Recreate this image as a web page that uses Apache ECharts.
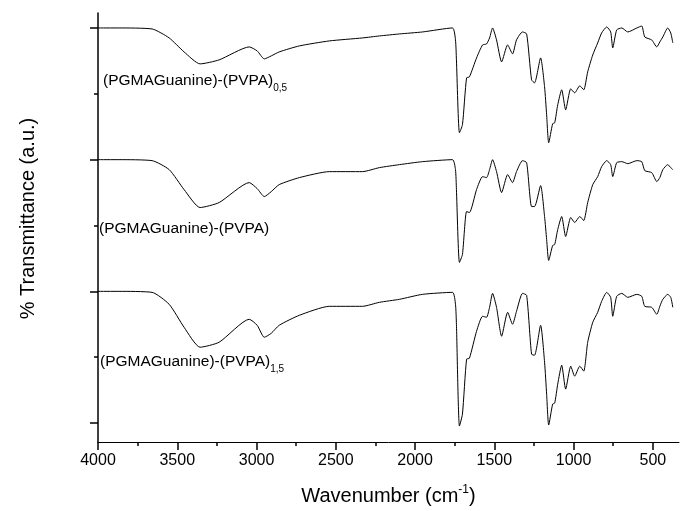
<!DOCTYPE html>
<html>
<head>
<meta charset="utf-8">
<script src="https://cdn.jsdelivr.net/npm/echarts@6/dist/echarts.min.js"></script>
<style>
  html, body { margin: 0; padding: 0; background: #fff; }
  #chart { width: 680px; height: 511px; }
</style>
</head>
<body>
<div id="chart"></div>
<script>
// wavenumbers (cm-1), shared by the three spectra
var wavenumber = [4000, 3867, 3659, 3551, 3457, 3356, 3236, 3046, 2996, 2951, 2907, 2857, 2730, 2541, 2332, 2225, 2099, 1953, 1764, 1745,
  1739, 1720, 1701, 1675, 1657, 1612, 1574, 1549, 1530, 1511, 1486, 1454, 1416, 1385, 1360, 1322, 1296, 1265, 1246, 1208,
  1183, 1170, 1157, 1132, 1119, 1100, 1075, 1050, 1018, 993, 961, 936, 911, 879, 848, 823, 791, 766, 753, 728,
  696, 658, 601, 570, 551, 507, 475, 456, 437, 406, 387, 374];

// transmittance, arbitrary units (curves are stacked)
var pvpa05 = [415, 415, 414, 405, 391, 379, 383, 396, 392, 384, 387, 391, 397, 402, 405, 407, 409, 411, 415, 403,
  383, 310, 318, 365, 366, 385, 398, 399, 405, 415, 403, 381, 398, 389, 403, 411, 409, 363, 360, 385,
  356, 328, 300, 319, 320, 338, 353, 333, 354, 350, 357, 353, 371, 388, 400, 410, 416, 411, 395, 413,
  415, 411, 415, 417, 406, 403, 396, 401, 406, 415, 410, 400];
var pvpa10 = [283, 283, 282, 273, 253, 235, 240, 260, 254, 246, 251, 258, 265, 271, 271, 275, 278, 281, 283, 273,
  253, 180, 188, 231, 230, 253, 266, 265, 273, 283, 271, 250, 268, 260, 271, 282, 280, 236, 236, 257,
  226, 203, 182, 197, 198, 213, 226, 206, 225, 220, 226, 222, 240, 258, 266, 276, 282, 278, 266, 280,
  281, 279, 282, 281, 272, 270, 261, 265, 273, 278, 275, 273];
var pvpa15 = [151, 151, 150, 138, 115, 95, 100, 123, 117, 105, 109, 117, 127, 136, 136, 140, 143, 148, 150, 138,
  118, 16, 28, 83, 84, 111, 126, 125, 135, 149, 135, 106, 130, 118, 131, 149, 147, 88, 87, 117,
  80, 48, 17, 38, 39, 58, 77, 53, 76, 66, 76, 71, 100, 120, 130, 141, 150, 145, 126, 146,
  149, 145, 148, 146, 136, 135, 128, 136, 143, 148, 145, 135];

var xMajor = [4000, 3500, 3000, 2500, 2000, 1500, 1000, 500];
var xMinor = [3750, 3250, 2750, 2250, 1750, 1250, 750];
var yMajor = [19, 151, 283, 415];
var yMinor = [85, 217, 349];

var font = 'Liberation Sans, Arial, sans-serif';

function pairs(vals) {
  var out = [];
  for (var i = 0; i < wavenumber.length; i++) {
    out.push([wavenumber[i], vals[i]]);
  }
  return out;
}

function spectrum(name, vals) {
  return {
    name: name,
    type: 'line',
    data: pairs(vals),
    showSymbol: false,
    smooth: 0.2,
    lineStyle: { color: '#000', width: 1 },
    silent: true
  };
}

var chart = echarts.init(document.getElementById('chart'));

var xBase = {
  type: 'value',
  inverse: true,
  min: 335,
  max: 4000,
  splitLine: { show: false }
};
var yBase = {
  type: 'value',
  min: 0,
  max: 430,
  splitLine: { show: false },
  axisLabel: { show: false }
};

var option = {
  animation: false,
  grid: { left: 98, right: 1, top: 13, bottom: 68 },
  xAxis: [
    Object.assign({}, xBase, {
      name: 'Wavenumber (cm{sup|-1})',
      nameLocation: 'middle',
      nameGap: 42,
      nameTextStyle: {
        fontFamily: font, fontSize: 20, color: '#000',
        rich: { sup: { fontFamily: font, fontSize: 12, color: '#000', padding: [0, 0, 12, 0] } }
      },
      axisLine: { show: true, lineStyle: { color: '#000', width: 1 } },
      axisTick: { show: true, customValues: xMajor, length: 8, lineStyle: { color: '#000', width: 1.5 } },
      axisLabel: {
        customValues: xMajor, fontFamily: font, fontSize: 16, color: '#000', margin: 11,
        formatter: function (v) { return String(v); }
      }
    }),
    Object.assign({}, xBase, {
      position: 'bottom',
      axisLine: { show: false },
      axisTick: { show: true, customValues: xMinor, length: 4, lineStyle: { color: '#000', width: 1.5 } },
      axisLabel: { show: false }
    })
  ],
  yAxis: [
    Object.assign({}, yBase, {
      name: '% Transmittance (a.u.)',
      nameLocation: 'middle',
      nameGap: 60,
      nameTextStyle: { fontFamily: font, fontSize: 20, color: '#000', padding: [0, 0, 0, 18] },
      axisLine: { show: true, lineStyle: { color: '#000', width: 1.5 } },
      axisTick: { show: true, customValues: yMajor, length: 8, lineStyle: { color: '#000', width: 1.5 } }
    }),
    Object.assign({}, yBase, {
      position: 'left',
      axisLine: { show: false },
      axisTick: { show: true, customValues: yMinor, length: 4, lineStyle: { color: '#000', width: 1.5 } }
    })
  ],
  series: [
    spectrum('(PGMAGuanine)-(PVPA)0,5', pvpa05),
    spectrum('(PGMAGuanine)-(PVPA)', pvpa10),
    spectrum('(PGMAGuanine)-(PVPA)1,5', pvpa15)
  ],
  graphic: [
    {
      type: 'text', left: 103, top: 73,
      style: {
        text: '{a|(PGMAGuanine)-(PVPA)}{s|0,5}',
        rich: {
          a: { fontFamily: font, fontSize: 15.5, fill: '#000' },
          s: { fontFamily: font, fontSize: 10, fill: '#000', padding: [14, 0, 0, 0] }
        }
      }
    },
    {
      type: 'text', left: 99, top: 221,
      style: { text: '(PGMAGuanine)-(PVPA)', font: '15.5px ' + font, fill: '#000' }
    },
    {
      type: 'text', left: 100, top: 354,
      style: {
        text: '{a|(PGMAGuanine)-(PVPA)}{s|1,5}',
        rich: {
          a: { fontFamily: font, fontSize: 15.5, fill: '#000' },
          s: { fontFamily: font, fontSize: 10, fill: '#000', padding: [14, 0, 0, 0] }
        }
      }
    }
  ]
};

chart.setOption(option);
</script>
</body>
</html>
